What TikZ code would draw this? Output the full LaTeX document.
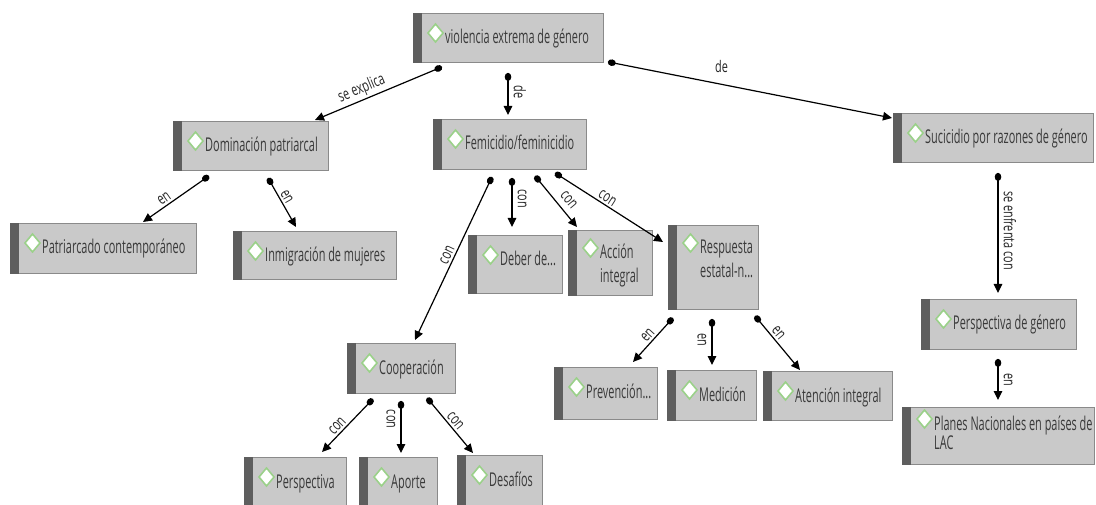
\documentclass[tikz,border=0pt]{standalone}
\usepackage{fontspec}
\setmainfont{Open Sans}[FakeStretch=0.575]
\newfontfamily\labfont{Open Sans}[FakeStretch=0.68]
\usetikzlibrary{arrows.meta,calc}
\definecolor{boxfill}{HTML}{C9C9C9}
\definecolor{boxline}{HTML}{8A8A8A}
\definecolor{stripc}{HTML}{5E5E5E}
\definecolor{txtc}{HTML}{3A3A3A}
\definecolor{diag}{HTML}{9BD18A}
\newcommand\twol[3][24]{{\fontsize{19}{#1}\selectfont\begin{tabular}[t]{@{}l@{}}#2\\#3\end{tabular}}}
\tikzset{
  cbx/.style={draw=boxline, fill=boxfill, line width=0.9pt, inner sep=0pt},
  ctext/.style={font=\fontsize{19}{24}\selectfont, text=txtc, inner sep=0pt},
  dia/.style={draw=diag, fill=white, line width=1.6pt, line join=miter},
  conn/.style={draw=black, line width=1.2pt, {Circle[length=8pt,width=6.5pt]}-{Triangle[length=9pt,width=8.5pt]}},
  elab/.style={font=\labfont\fontsize{16}{18}\selectfont, text=black!85, inner sep=2pt},
  vlab/.style={elab, inner sep=5pt, rotate=-90}
}
\newcommand\cbox[7][31]{%
  \node[cbx, minimum width=#5pt, minimum height=#6pt, anchor=north west] (#2) at (#3,#4) {};
  \fill[stripc] (#2.north west) rectangle ($(#2.south west)+(9,0)$);
  \draw[dia] ($(#2.north west)+(15,#1-11)$) -- ++(7.5,-9) -- ++(7.5,9) -- ++(-7.5,9) -- cycle;
  \node[ctext, anchor=base west] (#2-t) at ($(#2.north west)+(32,#1)$) {#7};
}
\begin{document}
\begin{tikzpicture}[x=1pt,y=-1pt]
\useasboundingbox (0,0) rectangle (1096,505);
\clip (0,0) rectangle (1096,505);
\fill[white] (0,0) rectangle (1096,505);
\cbox{vio}{413}{13}{190}{49}{violencia extrema de género}
\cbox{dom}{173}{121}{155}{49}{Dominación patriarcal}
\cbox{fem}{433}{119}{153}{50}{Femicidio/feminicidio}
\cbox{suc}{893}{113}{200}{49}{Sucicidio por razones de género}
\cbox{pat}{10}{223}{186}{50}{Patriarcado contemporáneo}
\cbox{inm}{233}{231}{163}{48}{Inmigración de mujeres}
\cbox{deb}{468}{235}{94}{58}{Deber de...}
\cbox[29]{acc}{568}{230}{84}{65}{\twol{Acción}{integral}}
\cbox[29]{res}{668}{225}{90}{84}{\twol{Respuesta}{estatal-n...}}
\cbox{coo}{347}{343}{108}{50}{Cooperación}
\cbox{per}{244}{457}{102}{60}{Perspectiva}
\cbox{apo}{359}{457}{78}{60}{Aporte}
\cbox{des}{457}{455}{85}{62}{Desafíos}
\cbox{pre}{554}{367}{103}{52}{Prevención...}
\cbox{med}{667}{370}{89}{50}{Medición}
\cbox{ate}{763}{371}{129}{49}{Atención integral}
\cbox{pg}{921}{299}{155}{50}{Perspectiva de género}
\cbox[23]{pla}{902}{407}{192}{57}{\twol[19]{Planes Nacionales en países de}{LAC}}
% connectors
\draw[conn] ($(vio.south west)+(29,4)$) -- node[elab, sloped, above, pos=0.6] {se explica} ($(dom.north west)+(142,-1)$);
\draw[conn] ($(vio.south west)+(95,10)$) -- node[vlab, anchor=south, pos=0.45] {de} ($(fem.north west)+(75,-4)$);
\draw[conn] ($(vio.south east)+(4,-1)$) -- node[elab, pos=0.4, above=9pt] {de} ($(suc.north west)+(-1,5)$);
\draw[conn] ($(fem.south west)+(59,7)$) -- node[elab, sloped, above, pos=0.5] {con} ($(coo.north west)+(68,-3)$);
\draw[conn] ($(fem.south west)+(79,8)$) -- node[vlab, anchor=south, pos=0.42] {con} ($(deb.north west)+(44,-8)$);
\draw[conn] ($(fem.south west)+(102,6)$) -- node[elab, sloped, above=4pt, pos=0.6] {con} ($(acc.north west)+(9,-3)$);
\draw[conn] ($(fem.south west)+(122,3)$) -- node[elab, sloped, above, pos=0.45] {con} ($(res.north west)+(-5,17)$);
\draw[conn] ($(dom.south west)+(36,5)$) -- node[elab, sloped, above, pos=0.62] {en} ($(pat.north west)+(133,-1)$);
\draw[conn] ($(dom.south west)+(95,7)$) -- node[elab, sloped, above, pos=0.45] {en} ($(inm.north west)+(63,-4)$);
\draw[conn] ($(coo.south west)+(26,5)$) -- node[elab, sloped, above, pos=0.6] {con} ($(per.north west)+(78,-5)$);
\draw[conn] ($(coo.south west)+(54,7)$) -- node[vlab, anchor=north, pos=0.35] {con} ($(apo.north west)+(42,-4)$);
\draw[conn] ($(coo.south west)+(80,4)$) -- node[elab, sloped, above, pos=0.5] {con} ($(des.north west)+(16,-2)$);
\draw[conn] ($(res.south west)+(5,8)$) -- node[elab, sloped, above, pos=0.5] {en} ($(pre.north west)+(79,-5)$);
\draw[conn] ($(res.south west)+(44,9)$) -- node[vlab, anchor=north, pos=0.45] {en} ($(med.north west)+(45,-5)$);
\draw[conn] ($(res.south west)+(87,6)$) -- node[elab, sloped, above, pos=0.4] {en} ($(ate.north west)+(37,-1)$);
\draw[conn] ($(suc.south west)+(105,10)$) -- node[vlab, anchor=south, pos=0.48] {se enfrenta con} ($(pg.north west)+(77,-6)$);
\draw[conn] ($(pg.south west)+(77,9)$) -- node[vlab, anchor=south, pos=0.5] {en} ($(pla.north west)+(96,-7)$);
\end{tikzpicture}
\end{document}
